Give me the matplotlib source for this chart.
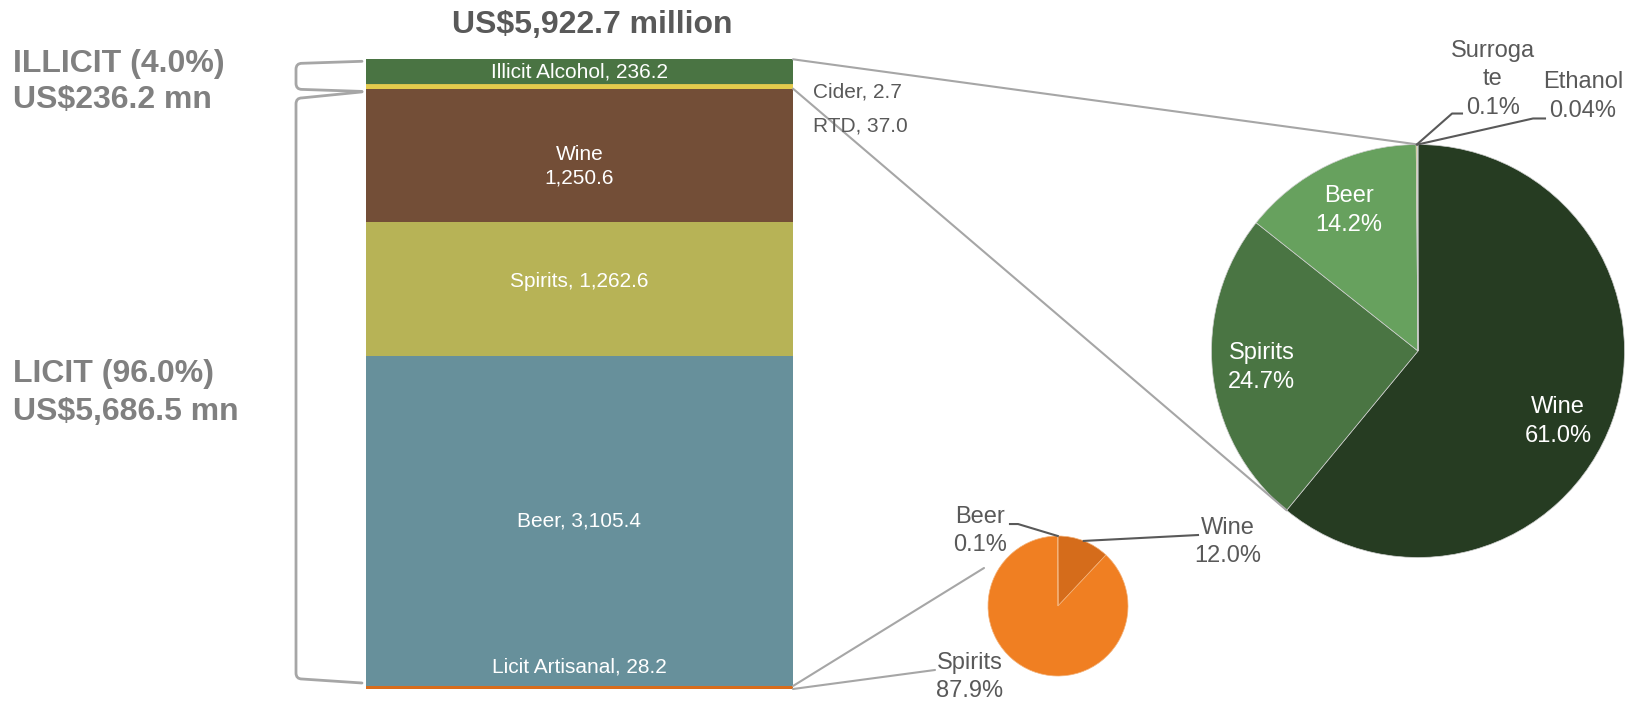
import numpy as np
import matplotlib.pyplot as plt
from matplotlib.path import Path
from matplotlib.patches import PathPatch

plt.rcParams['font.family'] = ['Liberation Sans', 'DejaVu Sans']

# stacked bar, US$ million, listed top to bottom
bar_labels = ['Illicit Alcohol', 'Cider', 'RTD', 'Wine', 'Spirits', 'Beer', 'Licit Artisanal']
bar_values = [236.2, 2.7, 37.0, 1250.6, 1262.6, 3105.4, 28.2]
total_value = 5922.7
illicit_value = 236.2
licit_value = 5686.5

# split of illicit alcohol (%)
illicit_labels = ['Wine', 'Spirits', 'Beer', 'Surrogate', 'Ethanol']
illicit_share = [61.0, 24.7, 14.2, 0.1, 0.04]

# split of licit artisanal (%)
artisanal_labels = ['Wine', 'Spirits', 'Beer']
artisanal_share = [12.0, 87.9, 0.1]

# colours
bar_colors = ['#4A7443', '#D9C24E', '#E4CB4C', '#734E37', '#B7B356', '#67909B', '#D86C1B']
illicit_colors = ['#263C22', '#4A7543', '#67A15E', '#E4CB4C', '#A5A5A5']
artisanal_colors = ['#D56C1B', '#F07F22', '#E9A15C']
GREY_TXT = '#595959'
GREY_HEAD = '#808080'
GREY_LINE = '#A6A6A6'

# layout in pixels (y measured downwards)
W, H = 1633, 702
BAR_L, BAR_R, BAR_T, BAR_B = 366, 793, 59.3, 689
P1 = (1418, 351, 206.5)   # illicit pie: cx, cy, r
P2 = (1058, 606, 70)      # artisanal pie

fig = plt.figure(figsize=(W / 100, H / 100), dpi=100)


def rect(left, top, w, h):
    return [left / W, 1 - (top + h) / H, w / W, h / H]


def bar_y(v):
    return BAR_B - v / total_value * (BAR_B - BAR_T)


def pie_xy(pie, ang=None, k=1.0, uv=None):
    cx, cy, r = pie
    if uv is None:
        a = np.radians(ang)
        uv = (k * np.cos(a), k * np.sin(a))
    return cx + uv[0] * r, cy - uv[1] * r


def pct(v):
    return f'{v:.1f}%' if v >= 0.1 else f'{v:.2f}%'


def pie_angles(share):
    s = np.array(share, dtype=float)
    cum = np.cumsum(s) / s.sum()
    frac = s / s.sum()
    return 90 - 360 * cum, 90 - 360 * (cum - frac / 2)


def stacked_text(ax, x, y, lines, gap, ha='center', **kw):
    n = len(lines)
    for i, s in enumerate(lines):
        ax.text(x, y + (i - (n - 1) / 2) * gap, s, ha=ha, va='center', **kw)


# ---- stacked bar ----
ax_bar = fig.add_axes(rect(BAR_L, BAR_T, BAR_R - BAR_L, BAR_B - BAR_T))
vals = np.array(bar_values)
bottoms = total_value - np.cumsum(vals)
ax_bar.bar(np.zeros(len(vals)), vals, bottom=bottoms, width=1.0, color=bar_colors, linewidth=0)
ax_bar.set_xlim(-0.5, 0.5)
ax_bar.set_ylim(0, total_value)
ax_bar.axis('off')

# ---- pies ----
ax_p1 = fig.add_axes(rect(P1[0] - P1[2], P1[1] - P1[2], 2 * P1[2], 2 * P1[2]))
ax_p1.pie(illicit_share, colors=illicit_colors, startangle=90, counterclock=False,
          wedgeprops=dict(linewidth=0.5, edgecolor='#CFCFCF'))
ax_p1.set_xlim(-1, 1)
ax_p1.set_ylim(-1, 1)

ax_p2 = fig.add_axes(rect(P2[0] - P2[2], P2[1] - P2[2], 2 * P2[2], 2 * P2[2]))
ax_p2.pie(artisanal_share, colors=artisanal_colors, startangle=90, counterclock=False,
          wedgeprops=dict(linewidth=0.5, edgecolor='#F3B27A'))
ax_p2.set_xlim(-1, 1)
ax_p2.set_ylim(-1, 1)

# ---- overlay for text, brackets and connectors ----
ov = fig.add_axes([0, 0, 1, 1], zorder=5)
ov.set_xlim(0, W)
ov.set_ylim(H, 0)
ov.axis('off')

mids = bar_y(bottoms + vals / 2)
bx = (BAR_L + BAR_R) / 2
white = dict(color='white', fontsize=15)
stacked_text(ov, bx, mids[0], [f'{bar_labels[0]}, {vals[0]:,.1f}'], 0, **white)
stacked_text(ov, bx, mids[3] + 11, [bar_labels[3], f'{vals[3]:,.1f}'], 24, **white)
stacked_text(ov, bx, mids[4] - 7, [f'{bar_labels[4]}, {vals[4]:,.1f}'], 0, **white)
stacked_text(ov, bx, mids[5], [f'{bar_labels[5]}, {vals[5]:,.1f}'], 0, **white)
stacked_text(ov, bx, bar_y(vals[6]) - 19, [f'{bar_labels[6]}, {vals[6]:,.1f}'], 0, **white)
ov.text(BAR_R + 20, mids[1] + 7, f'{bar_labels[1]}, {vals[1]:,.1f}', ha='left', va='center',
        color=GREY_TXT, fontsize=15)
ov.text(BAR_R + 20, mids[2] + 39, f'{bar_labels[2]}, {vals[2]:,.1f}', ha='left', va='center',
        color=GREY_TXT, fontsize=15)

# title
ov.text(592, 33, f'US${total_value:,.1f} million', ha='center', va='baseline',
        fontsize=23, fontweight='bold', color=GREY_TXT)


# brackets on the left
def bracket(y_top, y_bot, s_top, s_bot, x_left=296, x_right=BAR_L - 4, rad=6):
    verts = [(x_right, y_top), (x_left + rad, y_top + s_top), (x_left, y_top + s_top),
             (x_left, y_top + s_top + rad), (x_left, y_bot - s_bot - rad), (x_left, y_bot - s_bot),
             (x_left + rad, y_bot - s_bot), (x_right, y_bot)]
    codes = [Path.MOVETO, Path.LINETO, Path.CURVE3, Path.CURVE3, Path.LINETO,
             Path.CURVE3, Path.CURVE3, Path.LINETO]
    ov.add_patch(PathPatch(Path(verts, codes), fill=False, edgecolor=GREY_LINE, linewidth=2,
                           capstyle='round', joinstyle='round'))
    return (y_top + y_bot) / 2


mid_illicit = bracket(bar_y(total_value) + 2, bar_y(licit_value) + 7, 2, 2)
mid_licit = bracket(bar_y(licit_value) + 7.5, bar_y(0) - 6, 6, 4)

head = dict(ha='left', va='baseline', fontsize=23, fontweight='bold', color=GREY_HEAD)
ov.text(12.7, mid_illicit - 4, f'ILLICIT ({illicit_value / total_value * 100:.1f}%)', **head)
ov.text(12.7, mid_illicit + 32, f'US${illicit_value:,.1f} mn', **head)
ov.text(12.7, mid_licit - 5, f'LICIT ({licit_value / total_value * 100:.1f}%)', **head)
ov.text(12.7, mid_licit + 33, f'US${licit_value:,.1f} mn', **head)

# connectors from the bar to the pies
edges1, mid1 = pie_angles(illicit_share)
conn = dict(color=GREY_LINE, linewidth=1.5, solid_capstyle='round')
x0, y0 = pie_xy(P1, 90)
ov.plot([BAR_R, x0], [bar_y(total_value), y0], **conn)
x1, y1 = pie_xy(P1, edges1[0])
ov.plot([BAR_R, x1], [bar_y(bottoms[3] + vals[3]), y1], **conn)

edges2, mid2 = pie_angles(artisanal_share)
x2, y2 = pie_xy(P2, uv=(-1.057, 0.543))
ov.plot([BAR_R, x2], [bar_y(vals[6]), y2], **conn)
x3, y3 = pie_xy(P2, uv=(-1.757, -0.914))
ov.plot([BAR_R, x3], [bar_y(0), y3], **conn)

# illicit pie labels
pie_font = 17
nudge = {'Wine': -7}
for name, share, ang in zip(illicit_labels[:3], illicit_share[:3], mid1[:3]):
    lx, ly = pie_xy(P1, ang + nudge.get(name, 0), 0.76)
    stacked_text(ov, lx, ly, [name, pct(share)], 29, color='white', fontsize=pie_font)

leader = dict(color=GREY_TXT, linewidth=1.5)
outside1 = {'Surrogate': (['Surroga', 'te'], (0.363, 1.317), [(0.165, 1.150), (0.213, 1.150)]),
            'Ethanol': (['Ethanol'], (0.799, 1.232), [(0.557, 1.126), (0.615, 1.126)])}
for i, name in enumerate(illicit_labels[3:], start=3):
    lines, pos, path = outside1[name]
    lx, ly = pie_xy(P1, uv=pos)
    stacked_text(ov, lx, ly, lines + [pct(illicit_share[i])], 28.5, color=GREY_TXT, fontsize=pie_font)
    pts = [pie_xy(P1, mid1[i])] + [pie_xy(P1, uv=p) for p in path]
    ov.plot([p[0] for p in pts], [p[1] for p in pts], **leader)

# artisanal pie labels
outside2 = {'Wine': ((2.43, 0.914), [(2.0, 1.014)]),
            'Spirits': ((-1.257, -1.014), []),
            'Beer': ((-1.114, 1.071), [(-0.571, 1.171), (-0.686, 1.171)])}
for i, name in enumerate(artisanal_labels):
    pos, path = outside2[name]
    lx, ly = pie_xy(P2, uv=pos)
    stacked_text(ov, lx, ly, [name, pct(artisanal_share[i])], 28, color=GREY_TXT, fontsize=pie_font)
    if path:
        pts = [pie_xy(P2, mid2[i])] + [pie_xy(P2, uv=p) for p in path]
        ov.plot([p[0] for p in pts], [p[1] for p in pts], **leader)

fig.savefig('out.png', dpi=100)
